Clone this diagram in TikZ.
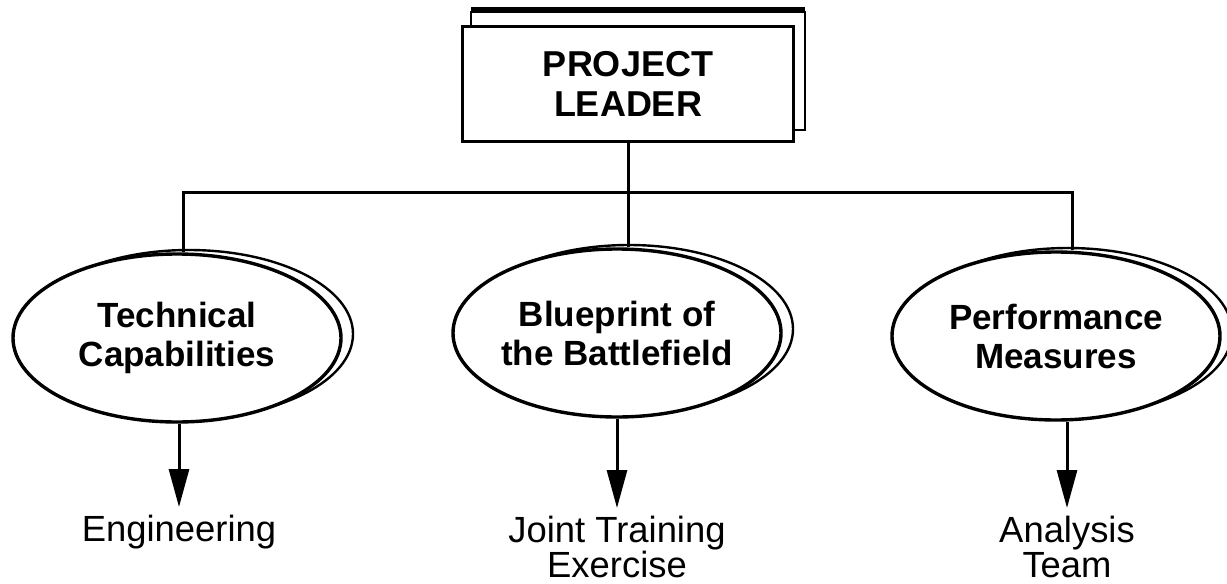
\documentclass[tikz,border=0pt]{standalone}
\usepackage{fontspec}
\setmainfont{Liberation Sans}
\usetikzlibrary{arrows.meta,shapes.geometric,backgrounds}
\tikzset{
  lead/.style={draw,line width=1.7pt,fill=white,minimum width=165.5pt,minimum height=57.5pt,inner sep=0pt,align=center,font=\fontsize{18}{20}\selectfont\bfseries},
  area/.style={ellipse,draw,line width=1.7pt,fill=white,minimum width=164pt,minimum height=84pt,inner sep=0pt,align=center,font=\fontsize{17.5}{19.5}\selectfont\bfseries},
  unit/.style={anchor=north,inner sep=0pt,align=center,font=\fontsize{18.2}{17.6}\selectfont},
  link/.style={line width=1.5pt},
  down/.style={line width=1.5pt,shorten >=4pt,-{Triangle[length=19pt,width=10pt]}},
  back/.style={draw,line width=1.2pt,fill=white}
}
\begin{document}
\begin{tikzpicture}[x=0.5pt,y=-0.5pt]
\useasboundingbox (0,0) rectangle (1227,584);
\node[lead] (pl) at (628,84) {PROJECT\\LEADER};
\node[area] (tc) at (177,338) {Technical\\Capabilities};
\node[area] (bb) at (617,333) {Blueprint of\\the Battlefield};
\node[area] (pm) at (1056,336) {Performance\\Measures};
\node[unit] (en) at (179,515) {Engineering};
\node[unit] (jt) at (617,516) {Joint Training\\Exercise};
\node[unit] (at) at (1067,516) {Analysis\\Team};
\coordinate (bl) at (183,192);
\coordinate (br) at (1072,192);
\begin{scope}[on background layer]
\draw[back] ([shift={(10,-13)}]pl.south west) rectangle ([shift={(10,-13)}]pl.north east);
\draw[line width=3pt] ([shift={(10,-15)}]pl.north west) -- ([shift={(10,-15)}]pl.north east);
\foreach \e in {tc,bb,pm}
  \draw[back] ([shift={(12,-4)}]\e.center) ellipse [x radius=82pt,y radius=42pt];
\end{scope}
\draw[link] (bl |- tc.north) -- (bl) -- (br) -- (br |- pm.north);
\draw[link] (pl.south) -- (pl.south |- bb.north);
\draw[down] (en.north |- tc.south) -- (en.north);
\draw[down] (jt.north |- bb.south) -- (jt.north);
\draw[down] (at.north |- pm.south) -- (at.north);
\end{tikzpicture}
\end{document}
